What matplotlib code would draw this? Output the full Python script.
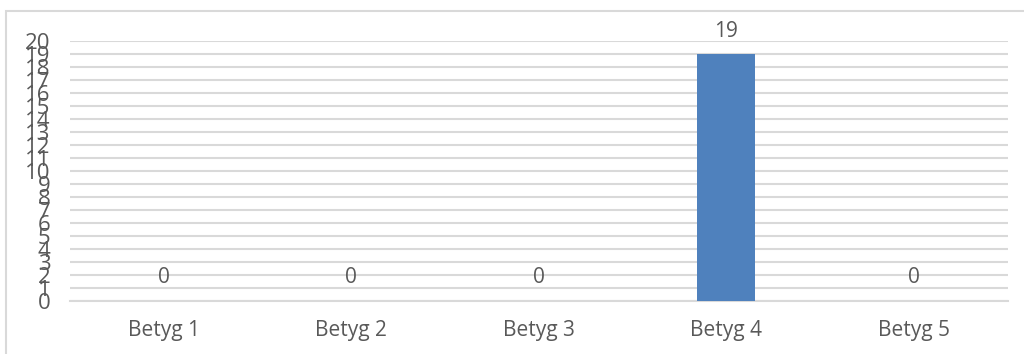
import matplotlib.pyplot as plt
from matplotlib.patches import Rectangle

categories = ["Betyg 1", "Betyg 2", "Betyg 3", "Betyg 4", "Betyg 5"]
counts = [0, 0, 0, 19, 0]
yticks = list(range(0, 21))

text_color = "#595959"
grid_color = "#D9D9D9"
bar_color = "#4F81BD"

plt.rcParams["font.family"] = ["Open Sans", "DejaVu Sans"]

fig = plt.figure(figsize=(10.24, 3.54), dpi=100)
ax = fig.add_axes([0.0684, 0.150, 0.9156, 0.734])

# outer chart frame (left and top edges show)
fig.patches.append(Rectangle((5.5 / 1024, -0.1), 1.2, 1.1 - 11.5 / 354,
                             transform=fig.transFigure, fill=False,
                             edgecolor=grid_color, linewidth=1.5))

x = range(len(categories))
bars = ax.bar(x, counts, width=0.31, color=bar_color, zorder=3)

for xi, v in zip(x, counts):
    ax.annotate(str(v), (xi, v), xytext=(0, 9), textcoords="offset points",
                ha="center", va="bottom", fontsize=15, color=text_color)

ax.set_xlim(-0.5, len(categories) - 0.5)
ax.set_ylim(0, 20)
ax.set_yticks(yticks)
ax.set_yticklabels([str(t) for t in yticks], fontsize=16, color=text_color)
ax.set_xticks(list(x))
ax.set_xticklabels(categories, fontsize=15, color=text_color)
ax.tick_params(axis="both", length=0)
ax.tick_params(axis="x", pad=14)
ax.tick_params(axis="y", pad=14)

ax.grid(axis="y", color=grid_color, linewidth=1.5, zorder=0)
for s in ax.spines.values():
    s.set_visible(False)
ax.spines["bottom"].set_visible(True)
ax.spines["bottom"].set_color(grid_color)
ax.spines["bottom"].set_linewidth(1.5)

fig.savefig("out.png", dpi=100)
